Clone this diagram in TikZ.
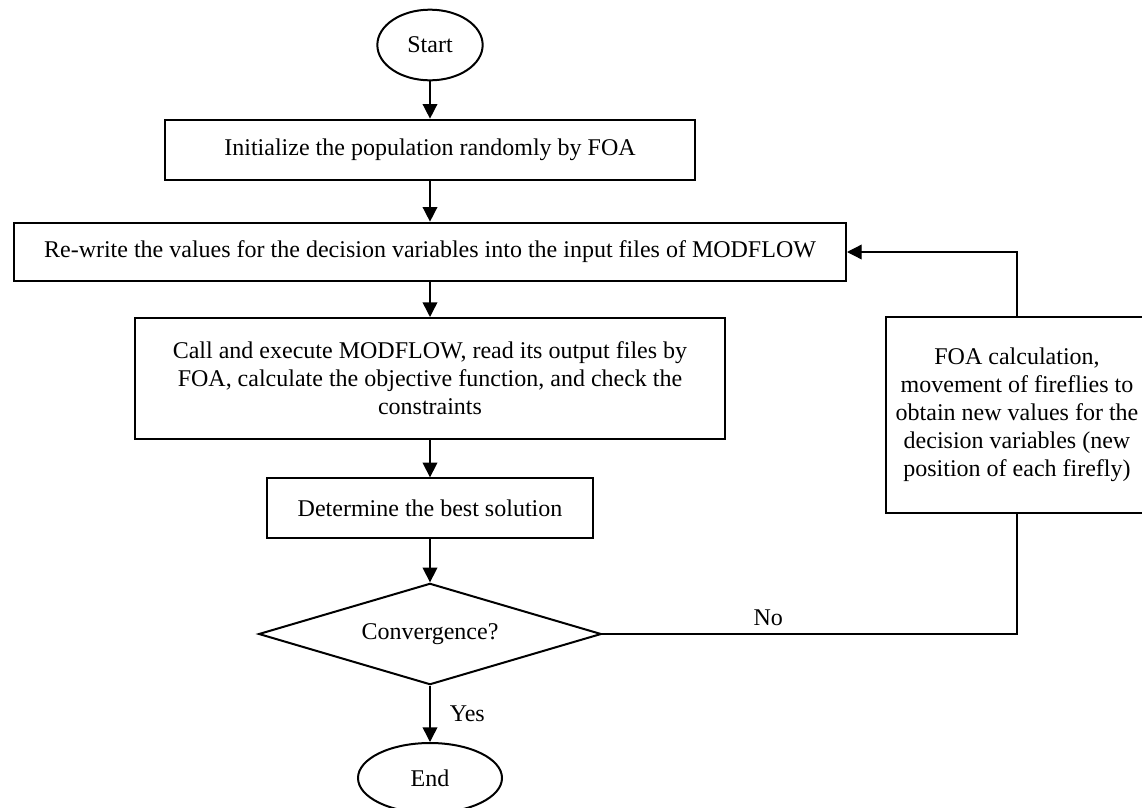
\documentclass[tikz,border=0pt]{standalone}
\usepackage{fontspec}
\setmainfont{Liberation Serif}
\usepackage{tikz}
\usetikzlibrary{shapes.geometric,arrows.meta}

\begin{document}
\begin{tikzpicture}[x=0.75pt,y=0.75pt,yscale=-1,xscale=1,
    every node/.style={font=\fontsize{18pt}{21pt}\selectfont},
    procbox/.style={draw,line width=1.5pt,rectangle,inner sep=0pt,align=center},
    termnode/.style={draw,line width=1.5pt,ellipse,inner sep=0pt},
    decnode/.style={draw,line width=1.5pt,diamond,aspect=3.4,inner sep=0pt,minimum width=257pt,minimum height=76pt},
    flowarrow/.style={line width=1.1pt,-{Triangle[length=11pt,width=11pt]}},
    flowline/.style={line width=1pt}]
            %set diagram size 1142 x 807
            \path[use as bounding box,fill=white] (0,0) rectangle (1142,807);

            % Start
            \node[termnode,minimum width=79pt,minimum height=53pt] (start) at (430,45) {Start};
            % Initialization
            \node[procbox,minimum width=397pt,minimum height=45.5pt] (init) at (430,150) {Initialize the population randomly by FOA};
            % Re-write
            \node[procbox,minimum width=624pt,minimum height=44pt] (rewrite) at (430,252) {Re-write the values for the decision variables into the input files of MODFLOW};
            % MODFLOW run
            \node[procbox,minimum width=442.5pt,minimum height=90.75pt] (runmf) at (430,378.5) {Call and execute MODFLOW, read its output files by\\FOA, calculate the objective function, and check the\\constraints};
            % Best solution
            \node[procbox,minimum width=245pt,minimum height=44.5pt] (best) at (430,508) {Determine the best solution};
            % Convergence check
            \node[decnode] (conv) at (430,634) {Convergence?};
            % End
            \node[termnode,minimum width=108pt,minimum height=52.5pt] (finish) at (430,778) {End};
            % FOA update
            \node[procbox,minimum width=196.5pt,minimum height=147pt] (update) at (1017,415) {FOA calculation,\\movement of fireflies to\\obtain new values for the\\decision variables (new\\position of each firefly)};

            % Connectors
            \draw[flowarrow] (start) -- (init);
            \draw[flowarrow] (init) -- (rewrite);
            \draw[flowarrow] (rewrite) -- (runmf);
            \draw[flowarrow] (runmf) -- (best);
            \draw[flowarrow] (best) -- (conv);
            \draw[flowarrow] (conv) -- node[right=11pt] {Yes} (finish);
            \draw[flowline] (conv.east) -| node[pos=0.2,above=2pt] {No} (update.south);
            \draw[flowarrow,line width=1pt] (update.north) |- (rewrite.east);

\end{tikzpicture}
\end{document}
